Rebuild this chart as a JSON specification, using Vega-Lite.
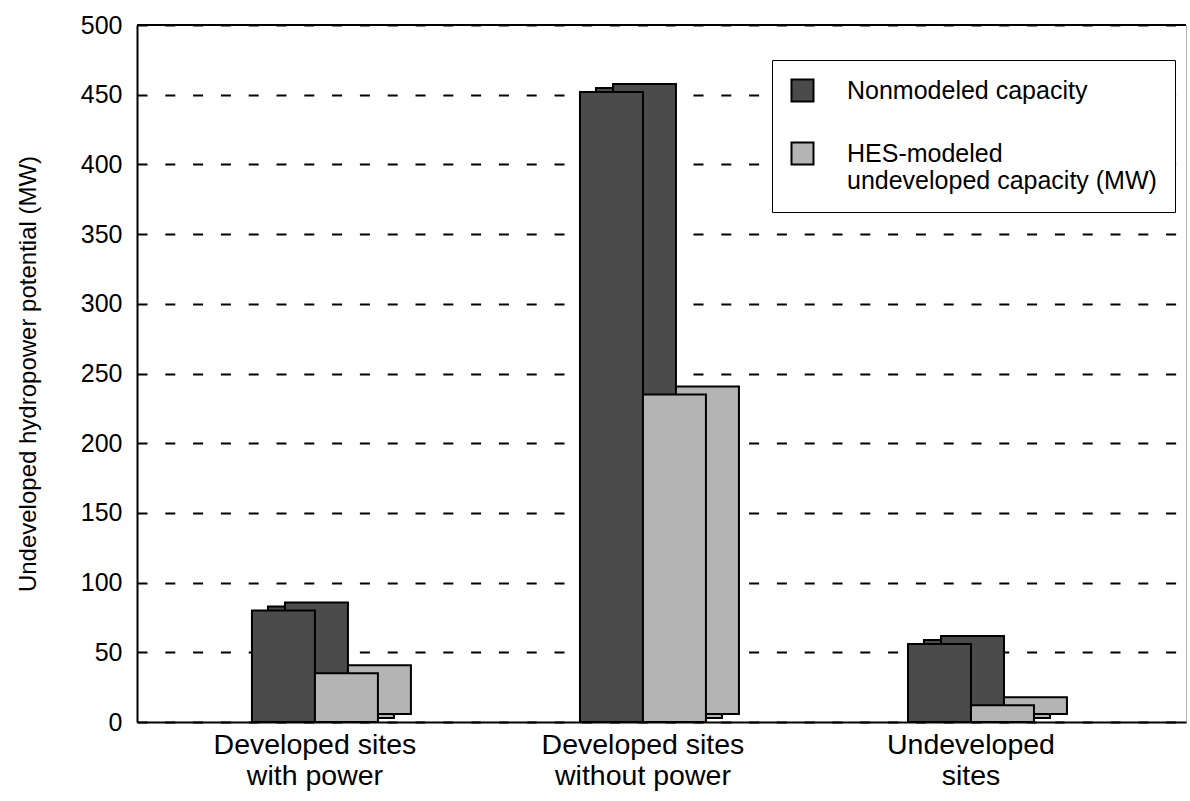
{
  "$schema": "https://vega.github.io/schema/vega-lite/v6.json",
  "autosize": "none",
  "width": 1049,
  "height": 697,
  "padding": {"left": 137, "top": 25, "right": 4, "bottom": 79},
  "background": "white",
  "config": {
    "font": "Liberation Sans",
    "view": {"stroke": "#b0b0b0", "strokeWidth": 1}
  },
  "data": {
    "values": [
      {"site": "Developed sites with power", "series": "Nonmodeled capacity", "value": 80},
      {"site": "Developed sites with power", "series": "HES-modeled undeveloped capacity (MW)", "value": 35},
      {"site": "Developed sites without power", "series": "Nonmodeled capacity", "value": 452},
      {"site": "Developed sites without power", "series": "HES-modeled undeveloped capacity (MW)", "value": 235},
      {"site": "Undeveloped sites", "series": "Nonmodeled capacity", "value": 56},
      {"site": "Undeveloped sites", "series": "HES-modeled undeveloped capacity (MW)", "value": 12}
    ]
  },
  "resolve": {"scale": {"xOffset": "independent"}},
  "layer": [
    {
      "mark": {"type": "bar", "yOffset": -4, "stroke": "black", "strokeWidth": 2},
      "encoding": {
        "x": {"field": "site", "type": "nominal", "sort": ["Developed sites with power", "Developed sites without power", "Undeveloped sites"],
              "scale": {"paddingInner": 0.232, "paddingOuter": 0.215, "align": 0.3685},
              "axis": {"title": null, "labelAngle": 0, "labelFontSize": 28.5, "labelColor": "black", "labelPadding": 8, "labelLineHeight": 31, "labelLimit": 0,
                       "ticks": false, "domainColor": "black", "domainWidth": 2,
                       "labelExpr": "datum.label == 'Developed sites with power' ? ['Developed sites', 'with power'] : datum.label == 'Developed sites without power' ? ['Developed sites', 'without power'] : ['Undeveloped', 'sites']"}},
        "xOffset": {"field": "series", "sort": ["Nonmodeled capacity", "HES-modeled undeveloped capacity (MW)"], "scale": {"paddingInner": 0, "paddingOuter": 1, "align": 0.627}},
        "y": {"field": "value", "type": "quantitative", "scale": {"domain": [0, 500]},
              "axis": {"title": "Undeveloped hydropower potential (MW)", "titleFontSize": 24, "titleFontWeight": "normal", "titleColor": "black", "titlePadding": 40,
                       "values": [0, 50, 100, 150, 200, 250, 300, 350, 400, 450, 500],
                       "labelFontSize": 25, "labelColor": "black", "labelPadding": 15, "ticks": false,
                       "domainColor": "black", "domainWidth": 2,
                       "grid": true, "gridColor": "black", "gridWidth": 2, "gridDash": [10, 17.8]}},
        "color": {"field": "series", "type": "nominal",
                  "scale": {"domain": ["Nonmodeled capacity", "HES-modeled undeveloped capacity (MW)"], "range": ["#4b4b4b", "#b4b4b4"]},
                  "legend": {"title": null, "orient": "none", "legendX": 635, "legendY": 35, "strokeColor": "black", "fillColor": "white", "padding": 18,
                             "symbolType": "square", "symbolSize": 484, "symbolStrokeColor": "black", "symbolStrokeWidth": 2,
                             "labelFontSize": 25, "labelColor": "black", "labelOffset": 32, "labelLimit": 0, "rowPadding": 32, "labelLineHeight": 32,
                             "labelExpr": "datum.label == 'HES-modeled undeveloped capacity (MW)' ? ['HES-modeled', 'undeveloped capacity (MW)'] : datum.label"}}
      }
    },
    {
      "mark": {"type": "bar", "yOffset": -8, "stroke": "black", "strokeWidth": 2},
      "encoding": {
        "x": {"field": "site", "type": "nominal", "sort": ["Developed sites with power", "Developed sites without power", "Undeveloped sites"]},
        "xOffset": {"field": "series", "sort": ["Nonmodeled capacity", "HES-modeled undeveloped capacity (MW)"], "scale": {"paddingInner": 0, "paddingOuter": 1, "align": 0.762}},
        "y": {"field": "value", "type": "quantitative"},
        "color": {"field": "series", "type": "nominal"}
      }
    },
    {
      "mark": {"type": "bar", "stroke": "black", "strokeWidth": 2},
      "encoding": {
        "x": {"field": "site", "type": "nominal", "sort": ["Developed sites with power", "Developed sites without power", "Undeveloped sites"]},
        "xOffset": {"field": "series", "sort": ["Nonmodeled capacity", "HES-modeled undeveloped capacity (MW)"], "scale": {"paddingInner": 0, "paddingOuter": 1, "align": 0.5}},
        "y": {"field": "value", "type": "quantitative"},
        "color": {"field": "series", "type": "nominal"}
      }
    },
    {
      "mark": {"type": "rule", "color": "black", "strokeWidth": 2},
      "encoding": {"y": {"datum": 500}}
    }
  ]
}
